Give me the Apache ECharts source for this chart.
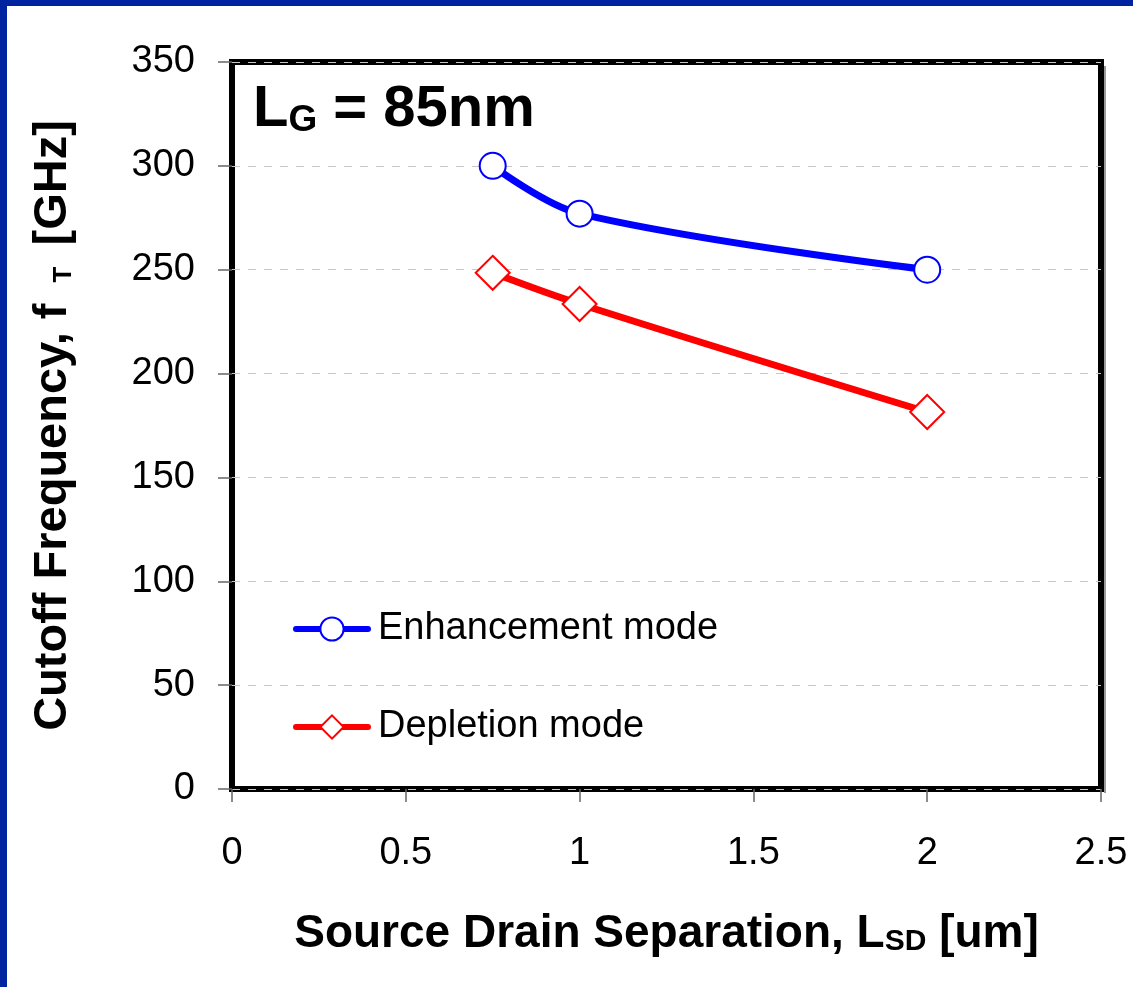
<!DOCTYPE html>
<html>
<head>
<meta charset="utf-8">
<script src="https://cdn.jsdelivr.net/npm/echarts@6/dist/echarts.min.js"></script>
<style>
html,body{margin:0;padding:0;background:#fff;}
#main{width:1133px;height:987px;}
</style>
</head>
<body>
<div id="main"></div>
<script>
// ---- data ----
const lsd = [0.75, 1.0, 2.0];
const enhancement = [300, 277, 250];
const depletion = [248.5, 233.5, 181.5];
const seriesNames = ['Enhancement mode', 'Depletion mode'];
const yTicks = { min: 0, max: 350, interval: 50 };
const xTicks = { min: 0, max: 2.5, interval: 0.5 };

const FONT = "'Liberation Sans', Arial, sans-serif";
const chart = echarts.init(document.getElementById('main'), null, { renderer: 'canvas' });

function pairs(xs, ys) { return xs.map((x, i) => [x, ys[i]]); }

chart.setOption({
  backgroundColor: '#ffffff',
  animation: false,
  graphic: [
    { type: 'rect', left: 0, top: 0, shape: { width: 1133, height: 6 }, style: { fill: '#0024a0' } },
    { type: 'rect', left: 0, top: 0, shape: { width: 7, height: 987 }, style: { fill: '#0024a0' } },
    { type: 'rect', left: 1104, top: 66, shape: { width: 2, height: 727 }, style: { fill: '#9a9a9a' }, z: -1 }
  ],
  title: {
    left: 248, top: 76,
    text: '{a|L}{b|G}{a| = 85nm}',
    textStyle: {
      rich: {
        a: { fontFamily: FONT, fontWeight: 'bold', fontSize: 58, color: '#000' },
        b: { fontFamily: FONT, fontWeight: 'bold', fontSize: 37, color: '#000', verticalAlign: 'bottom', padding: [20, 0, 0, 0] }
      }
    }
  },
  grid: {
    left: 232, top: 62, width: 869, height: 727,
    show: true, borderColor: '#000', borderWidth: 6, backgroundColor: 'transparent'
  },
  legend: {
    orient: 'vertical', left: 293, top: 609, padding: 0,
    itemWidth: 72, itemHeight: 29, itemGap: 58,
    lineStyle: { width: 6, cap: 'round' },
    textStyle: { fontFamily: FONT, fontSize: 38, color: '#000', lineHeight: 40, padding: [0, 0, 0, 5] },
    data: seriesNames
  },
  xAxis: {
    type: 'value', min: xTicks.min, max: xTicks.max, interval: xTicks.interval,
    axisLine: { show: false },
    axisTick: { show: true, inside: false, length: 13, lineStyle: { color: '#666', width: 1.5 } },
    splitLine: { show: false },
    axisLabel: { margin: 46, fontFamily: FONT, fontSize: 38, color: '#000' },
    name: 'Source Drain Separation, L{s|SD} [um]',
    nameLocation: 'middle', nameGap: 122,
    nameTextStyle: {
      fontFamily: FONT, fontWeight: 'bold', fontSize: 46, color: '#000',
      rich: { s: { fontFamily: FONT, fontWeight: 'bold', fontSize: 30, color: '#000', verticalAlign: 'bottom', padding: [14, 0, 0, 0] } }
    }
  },
  yAxis: {
    type: 'value', min: yTicks.min, max: yTicks.max, interval: yTicks.interval,
    axisLine: { show: false },
    axisTick: { show: true, inside: false, length: 14, lineStyle: { color: '#666', width: 1.5 } },
    splitLine: { show: true, lineStyle: { color: '#c8c8c8', width: 1, type: [8, 8] } },
    axisLabel: { margin: 37, fontFamily: FONT, fontSize: 38, color: '#000' },
    name: 'Cutoff Frequency, f {s|T} [GHz]',
    nameLocation: 'middle', nameGap: 155, nameRotate: 90,
    nameTextStyle: {
      fontFamily: FONT, fontWeight: 'bold', fontSize: 47, color: '#000',
      rich: { s: { fontFamily: FONT, fontWeight: 'bold', fontSize: 26, color: '#000', verticalAlign: 'bottom', padding: [10, 8, 0, 8] } }
    }
  },
  series: [
    {
      name: seriesNames[0], type: 'line', smooth: 0.35,
      data: pairs(lsd, enhancement),
      symbol: 'circle', symbolSize: 26,
      lineStyle: { color: '#0000ff', width: 7 },
      itemStyle: { color: '#ffffff', borderColor: '#0000ff', borderWidth: 2 },
      z: 3
    },
    {
      name: seriesNames[1], type: 'line', smooth: 0.35,
      data: pairs(lsd, depletion),
      symbol: 'diamond', symbolSize: [34, 34],
      lineStyle: { color: '#ff0000', width: 7 },
      itemStyle: { color: '#ffffff', borderColor: '#ff0000', borderWidth: 2 },
      z: 3
    }
  ]
});
</script>
</body>
</html>
